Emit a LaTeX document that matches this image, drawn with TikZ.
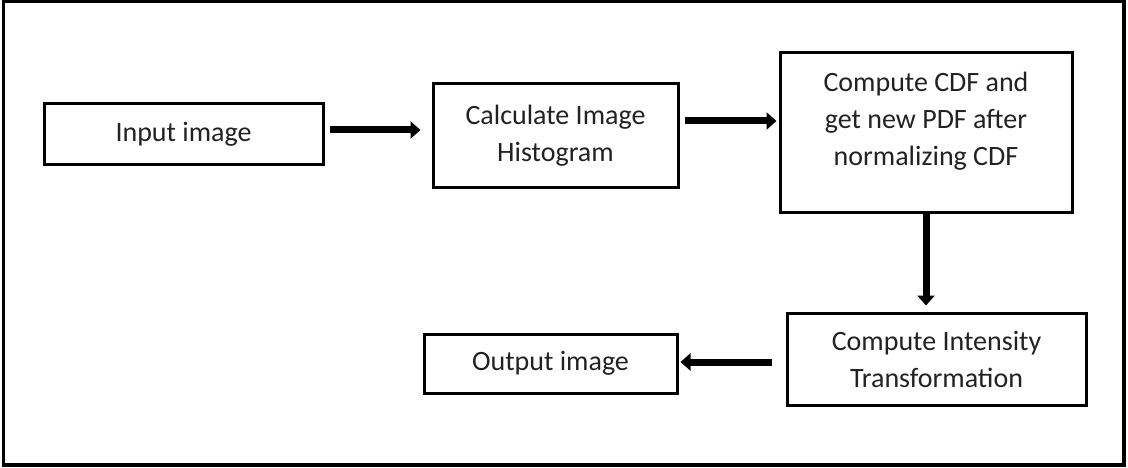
\documentclass[tikz,border=0pt]{standalone}
\usepackage{fontspec}
\setmainfont{Carlito}
\usetikzlibrary{arrows.meta}
\definecolor{txt}{HTML}{222222}
\tikzset{
  box/.style={draw=black, line width=3pt, inner sep=0pt, align=center, text=txt,
    font=\fontsize{28}{37}\selectfont},
  flow/.style={line width=7pt, -{Triangle[width=17pt,length=10pt]}},
}
\begin{document}
\begin{tikzpicture}[x=1pt,y=1pt]
\useasboundingbox (0,0) rectangle (1128,467);
\draw[line width=3.5pt] (3.7,2) rectangle (1124,465.7);
\node[box, minimum width=279pt, minimum height=60pt] (b1) at (183.5,333) {Input image};
\node[box, minimum width=245pt, minimum height=103pt] (b2) at (555.5,331.5) {Calculate Image\\Histogram};
\node[box, minimum width=292pt, minimum height=159pt] (b3) at (926,334.5) {};
\node[text=txt, align=center, inner sep=0pt, font=\fontsize{28}{37}\selectfont] (b3t) at ([yshift=11pt]b3.center) {Compute CDF and\\get new PDF after\\normalizing CDF};
\node[box, minimum width=299pt, minimum height=92pt] (b4) at (936.5,108) {Compute Intensity\\Transformation};
\node[box, minimum width=253pt, minimum height=59pt] (b5) at (550.5,103.5) {Output image};
\draw[flow, shorten <=5pt, shorten >=11pt] ([yshift=4pt]b1.east) -- ([yshift=4pt]b1.east -| b2.west);
\draw[flow, shorten <=5pt, shorten >=2pt] ([yshift=14.5pt]b2.east) -- ([yshift=14.5pt]b2.east -| b3.west);
\draw[flow, shorten <=0pt, shorten >=6pt] (b3.south) -- (b4.north -| b3.south);
\draw[flow, shorten <=14pt, shorten >=2pt] ([yshift=-3pt]b4.west) -- ([yshift=-3pt]b4.west -| b5.east);
\end{tikzpicture}
\end{document}
